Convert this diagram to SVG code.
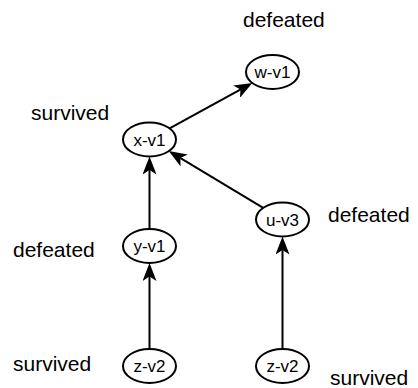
<svg xmlns="http://www.w3.org/2000/svg" width="418" height="388" viewBox="0 0 418 388">
  <style>
    .node ellipse { fill: #ffffff; stroke: #000000; stroke-width: 2; }
    .node text { font-family: "Liberation Sans", Arial, sans-serif; font-size: 17px; fill: #000000; text-anchor: middle; }
    .label { font-family: "Liberation Sans", Arial, sans-serif; font-size: 21px; fill: #000000; }
    .edge { fill: none; stroke: #000000; stroke-width: 2; marker-end: url(#arrow); }
  </style>
  <defs>
    <!-- classic filled arrowhead, tip lands 6px past the line end -->
    <marker id="arrow" markerUnits="userSpaceOnUse" viewBox="0 0 18 14" markerWidth="18" markerHeight="14" refX="12" refY="7" orient="auto">
      <path d="M0,0 L18,7 L0,14 L4.5,7 Z" fill="#000000"/>
    </marker>
  </defs>

  <rect width="418" height="388" fill="#ffffff"/>

  <!-- connectors -->
  <g id="edges">
    <line class="edge" x1="169.6" y1="128.4" x2="247.1" y2="85.9"/>
    <line class="edge" x1="263.2" y1="207.9" x2="173.9" y2="154.2"/>
    <line class="edge" x1="149.5" y1="229" x2="149.5" y2="162.5"/>
    <line class="edge" x1="149.5" y1="349" x2="149.5" y2="269"/>
    <line class="edge" x1="282.5" y1="349" x2="282.5" y2="242.5"/>
  </g>

  <!-- nodes -->
  <g id="w-v1" class="node">
    <ellipse cx="272.5" cy="72" rx="26.5" ry="17"/>
    <text x="272.5" y="78">w-v1</text>
  </g>
  <g id="x-v1" class="node">
    <ellipse cx="149.5" cy="139.5" rx="26.5" ry="17"/>
    <text x="149.5" y="145.5">x-v1</text>
  </g>
  <g id="y-v1" class="node">
    <ellipse cx="149.5" cy="246" rx="26.5" ry="17"/>
    <text x="149.5" y="252">y-v1</text>
  </g>
  <g id="u-v3" class="node">
    <ellipse cx="282.5" cy="219.5" rx="26.5" ry="17"/>
    <text x="282.5" y="225.5">u-v3</text>
  </g>
  <g id="z-v2-left" class="node">
    <ellipse cx="149.5" cy="366" rx="26.5" ry="17"/>
    <text x="149.5" y="372">z-v2</text>
  </g>
  <g id="z-v2-right" class="node">
    <ellipse cx="282.5" cy="366" rx="26.5" ry="17"/>
    <text x="282.5" y="372">z-v2</text>
  </g>

  <!-- status labels -->
  <g id="labels">
    <text class="label" x="243" y="27">defeated</text>
    <text class="label" x="31" y="120">survived</text>
    <text class="label" x="13" y="257">defeated</text>
    <text class="label" x="328" y="222">defeated</text>
    <text class="label" x="13" y="371">survived</text>
    <text class="label" x="330" y="385">survived</text>
  </g>
</svg>
